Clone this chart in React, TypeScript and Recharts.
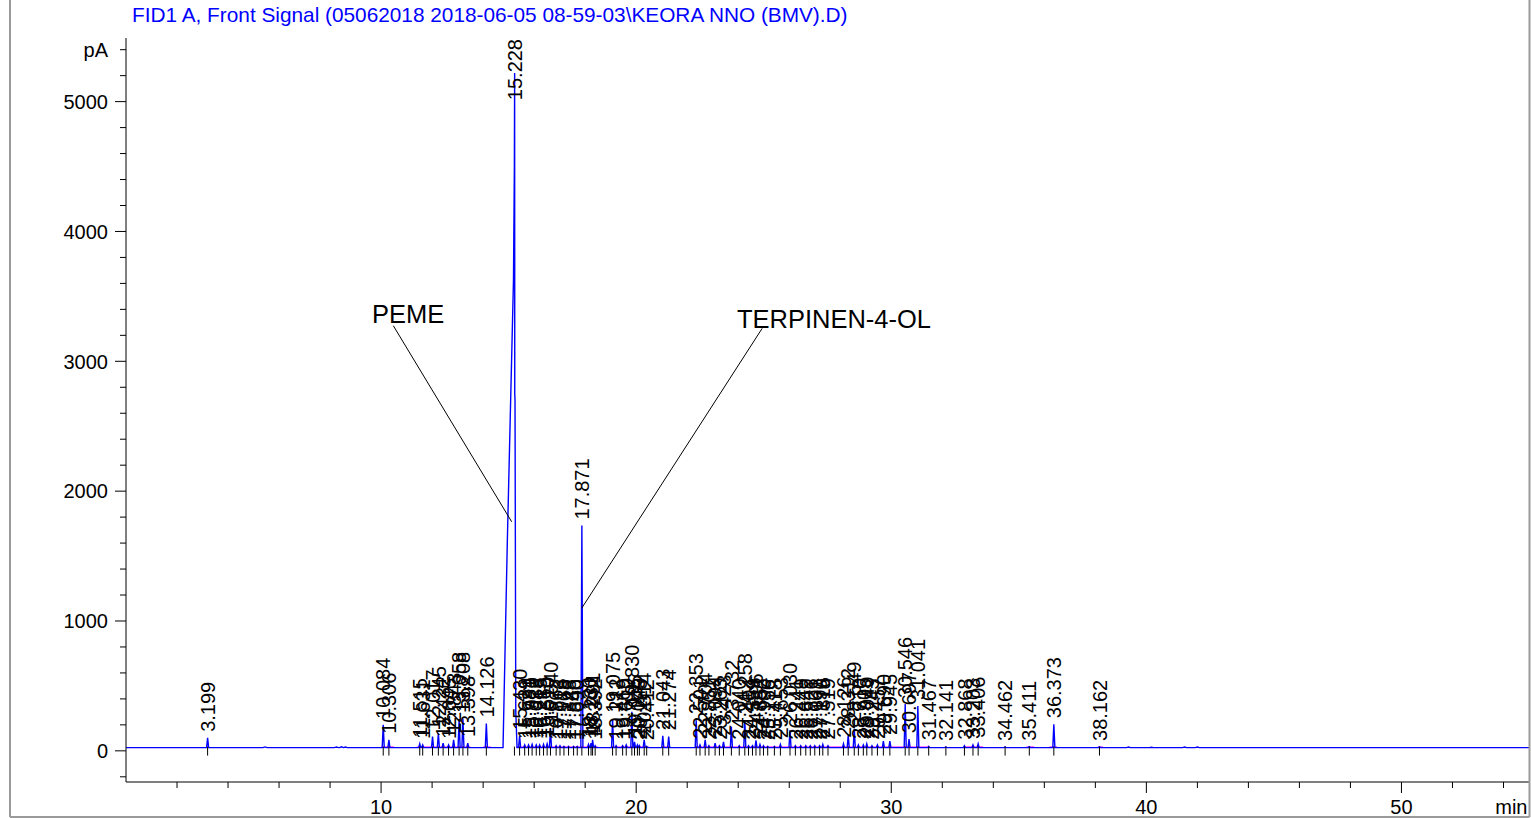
import * as React from 'react';
import { ComposedChart, Line, Scatter, XAxis, YAxis, ReferenceLine } from 'recharts';

const FONT = 'Liberation Sans, Arial, Helvetica, sans-serif';
const BASELINE = 25;
const PLOT_TOP = 38;

// integrated peaks: retention time label and apex signal (pA)
const peakTimes = [
  '3.199', '10.084', '10.306', '11.515', '11.631', '12.017', '12.245', '12.432', '12.645', '12.843',
  '13.058', '13.208', '13.398', '14.126', '15.430', '15.629', '15.781', '15.920', '16.083', '16.215',
  '16.368', '16.510', '16.640', '16.862', '17.013', '17.168', '17.348', '17.546', '17.690', '17.871',
  '18.130', '18.231', '18.291', '18.392', '19.075', '19.212', '19.469', '19.610', '19.830', '19.935',
  '20.049', '20.125', '20.314', '20.412', '21.043', '21.274', '22.353', '22.501', '22.704', '22.851',
  '23.094', '23.263', '23.423', '23.732', '24.040', '24.258', '24.404', '24.559', '24.696', '24.852',
  '24.990', '25.156', '25.418', '25.653', '26.030', '26.241', '26.449', '26.649', '26.826', '27.001',
  '27.190', '27.316', '27.519', '28.126', '28.312', '28.549', '28.710', '28.905', '29.040', '29.243',
  '29.457', '29.690', '29.945', '30.546', '30.697', '31.041', '31.467', '32.141', '32.868', '33.203',
  '33.406', '34.462', '35.411', '36.373', '38.162',
];
const peakHeights = [
  100, 200, 85, 55, 45, 110, 135, 60, 45, 85,
  245, 245, 60, 210, 115, 45, 45, 50, 45, 45,
  50, 55, 170, 40, 40, 35, 35, 35, 35, 1735,
  50, 60, 85, 40, 245, 40, 40, 45, 300, 70,
  45, 40, 85, 35, 115, 110, 235, 45, 85, 40,
  60, 40, 70, 185, 40, 235, 40, 40, 80, 50,
  40, 35, 35, 50, 160, 40, 40, 40, 40, 40,
  40, 50, 40, 55, 120, 170, 45, 45, 55, 40,
  45, 75, 75, 360, 90, 345, 35, 30, 40, 45,
  55, 30, 32, 205, 30,
];

// main (PEME) peak, fronting profile
const mainPeakLabel = '15.228';
const mainPeakTimes = [14.78, 14.95, 15.19, 15.225, 15.235, 15.24, 15.25, 15.28, 15.33];
const mainPeakValues = [25, 1624, 3626, 4500, 5220, 2750, 2700, 300, 25];

// unlabelled baseline blips
const bumpTimes = [5.45, 8.25, 8.45, 8.6, 39.3, 40.2, 41.5, 42.0];
const bumpHeights = [30, 29, 31, 29, 29, 28, 29, 29];

// integration baselines (magenta)
const baselineSegments = [
  [10.0, 10.5], [11.4, 13.5], [14.0, 14.3], [15.3, 18.5], [19.0, 20.5], [21.0, 21.3],
  [22.3, 31.5], [32.9, 33.6], [35.3, 35.6], [36.2, 36.5], [38.1, 38.3],
];

const xTicks = [2, 4, 6, 8, 10, 12, 14, 16, 18, 20, 22, 24, 26, 28, 30, 32, 34, 36, 38, 40, 42, 44, 46, 48, 50, 52, 54];
const yTicks = [-200, 0, 200, 400, 600, 800, 1000, 1200, 1400, 1600, 1800, 2000, 2200, 2400, 2600, 2800, 3000,
  3200, 3400, 3600, 3800, 4000, 4200, 4400, 4600, 4800, 5000, 5200, 5400];

const annotations = [
  { t: 9.64, v: 3295, text: 'PEME', from: { x: 10.48, y: 3274 }, to: { x: 15.12, y: 1764 } },
  { t: 23.95, v: 3256, text: 'TERPINEN-4-OL', from: { x: 24.94, y: 3254 }, to: { x: 17.86, y: 1097 } },
];

const HALF_WIDTH = 0.04;

const trace: { t: number; v: number }[] = [{ t: 0, v: BASELINE }, { t: 55, v: BASELINE }];
peakTimes.forEach((label, i) => {
  const t = Number(label);
  trace.push({ t: t - HALF_WIDTH, v: BASELINE }, { t, v: peakHeights[i] }, { t: t + HALF_WIDTH, v: BASELINE });
});
bumpTimes.forEach((t, i) => {
  trace.push({ t: t - 0.08, v: BASELINE }, { t, v: bumpHeights[i] }, { t: t + 0.08, v: BASELINE });
});
mainPeakTimes.forEach((t, i) => trace.push({ t, v: mainPeakValues[i] }));
trace.sort((a, b) => a.t - b.t);

const labelData = peakTimes
  .map((label, i) => ({ t: Number(label), v: peakHeights[i], label }))
  .concat([{ t: Number(mainPeakLabel), v: mainPeakValues[4], label: mainPeakLabel }]);
const tickData = labelData.map((d) => ({ t: d.t, v: BASELINE }));

const PeakLabel = (props: any) => {
  const { cx, cy, payload } = props;
  const text: string = payload.label;
  const len = (text.length - 1) * 11.12 + 5.56;
  const bottom = Math.max(cy - 6, PLOT_TOP + len + 1);
  return (
    <text
      x={cx}
      y={bottom}
      dy="0.36em"
      transform={`rotate(-90 ${cx} ${bottom})`}
      fontSize={20}
      fontFamily={FONT}
      fill="#000"
    >
      {text}
    </text>
  );
};

const BaseTick = (props: any) => {
  const { cx, cy } = props;
  return <line x1={cx} y1={cy - 1} x2={cx} y2={cy + 8} stroke="#000" strokeWidth={1} />;
};

const AnnotationText = (props: any) => {
  const { cx, cy, payload } = props;
  return (
    <text x={cx} y={cy} fontSize={25.5} fontFamily={FONT} fill="#000">
      {payload.text}
    </text>
  );
};

const XTick = (props: any) => {
  const { x, y, payload } = props;
  const v = payload.value;
  const major = v % 10 === 0;
  return (
    <g>
      <line x1={x} y1={y} x2={x} y2={y + (major ? 11 : 6)} stroke="#000" />
      {major && (
        <text x={x} y={y + 32} textAnchor="middle" fontSize={20} fontFamily={FONT} fill="#000">
          {v}
        </text>
      )}
      {v === 54 && (
        <text x={x + 24} y={y + 32} textAnchor="end" fontSize={20} fontFamily={FONT} fill="#000">
          min
        </text>
      )}
    </g>
  );
};

const YTick = (props: any) => {
  const { x, y, payload } = props;
  const v = payload.value;
  const major = v % 1000 === 0;
  const label = v === 5400 ? 'pA' : major ? String(v) : '';
  return (
    <g>
      <line x1={x - (major ? 11 : 6)} y1={y} x2={x} y2={y} stroke="#000" />
      {label && (
        <text x={x - 18} y={y} dy="0.36em" textAnchor="end" fontSize={20} fontFamily={FONT} fill="#000">
          {label}
        </text>
      )}
    </g>
  );
};

export default function App(): React.JSX.Element {
  return (
    <div style={{ position: 'absolute', left: 0, top: 0, width: 1531, height: 818, background: '#fff' }}>
      <ComposedChart
        width={1531}
        height={818}
        margin={{ top: PLOT_TOP, right: 2, bottom: 6, left: 56 }}
        style={{ fontFamily: FONT }}
      >
        <XAxis
          dataKey="t"
          type="number"
          domain={[0, 55]}
          ticks={xTicks}
          interval={0}
          allowDataOverflow
          height={30}
          stroke="#000"
          tickSize={0}
          tickMargin={0}
          tickLine={false}
          tick={<XTick />}
        />
        <YAxis
          dataKey="v"
          type="number"
          domain={[-240, 5490]}
          ticks={yTicks}
          interval={0}
          allowDataOverflow
          width={70}
          stroke="#000"
          tickSize={0}
          tickMargin={0}
          tickLine={false}
          tick={<YTick />}
        />
        {baselineSegments.map(([a, b], i) => (
          <ReferenceLine
            key={`seg-${i}`}
            segment={[{ x: a, y: BASELINE + 3 }, { x: b, y: BASELINE + 3 }]}
            stroke="#ff00ff"
            strokeWidth={1.5}
          />
        ))}
        <Line
          data={trace}
          dataKey="v"
          type="linear"
          stroke="#0000ff"
          strokeWidth={1.4}
          dot={false}
          activeDot={false}
          isAnimationActive={false}
        />
        <Scatter data={tickData} dataKey="v" shape={(p: any) => <BaseTick {...p} />} isAnimationActive={false} />
        <Scatter data={labelData} dataKey="v" shape={(p: any) => <PeakLabel {...p} />} isAnimationActive={false} />
        {annotations.map((a, i) => (
          <ReferenceLine key={`lead-${i}`} segment={[a.from, a.to]} stroke="#000" strokeWidth={1} />
        ))}
        <Scatter data={annotations} dataKey="v" shape={(p: any) => <AnnotationText {...p} />} isAnimationActive={false} />
      </ComposedChart>
      <svg width={1531} height={818} style={{ position: 'absolute', left: 0, top: 0, pointerEvents: 'none' }}>
        <text x={132} y={22} fontSize={20.8} fontFamily={FONT} fill="#0000ff">
          {'FID1 A, Front Signal (05062018 2018-06-05 08-59-03\\KEORA NNO (BMV).D)'}
        </text>
        <line x1={10} y1={0} x2={10} y2={817} stroke="#9a9a9a" strokeWidth={2} />
        <line x1={10} y1={817} x2={1529.5} y2={817} stroke="#9a9a9a" strokeWidth={2} />
        <line x1={1529.5} y1={0} x2={1529.5} y2={817} stroke="#9a9a9a" strokeWidth={2} />
      </svg>
    </div>
  );
}
